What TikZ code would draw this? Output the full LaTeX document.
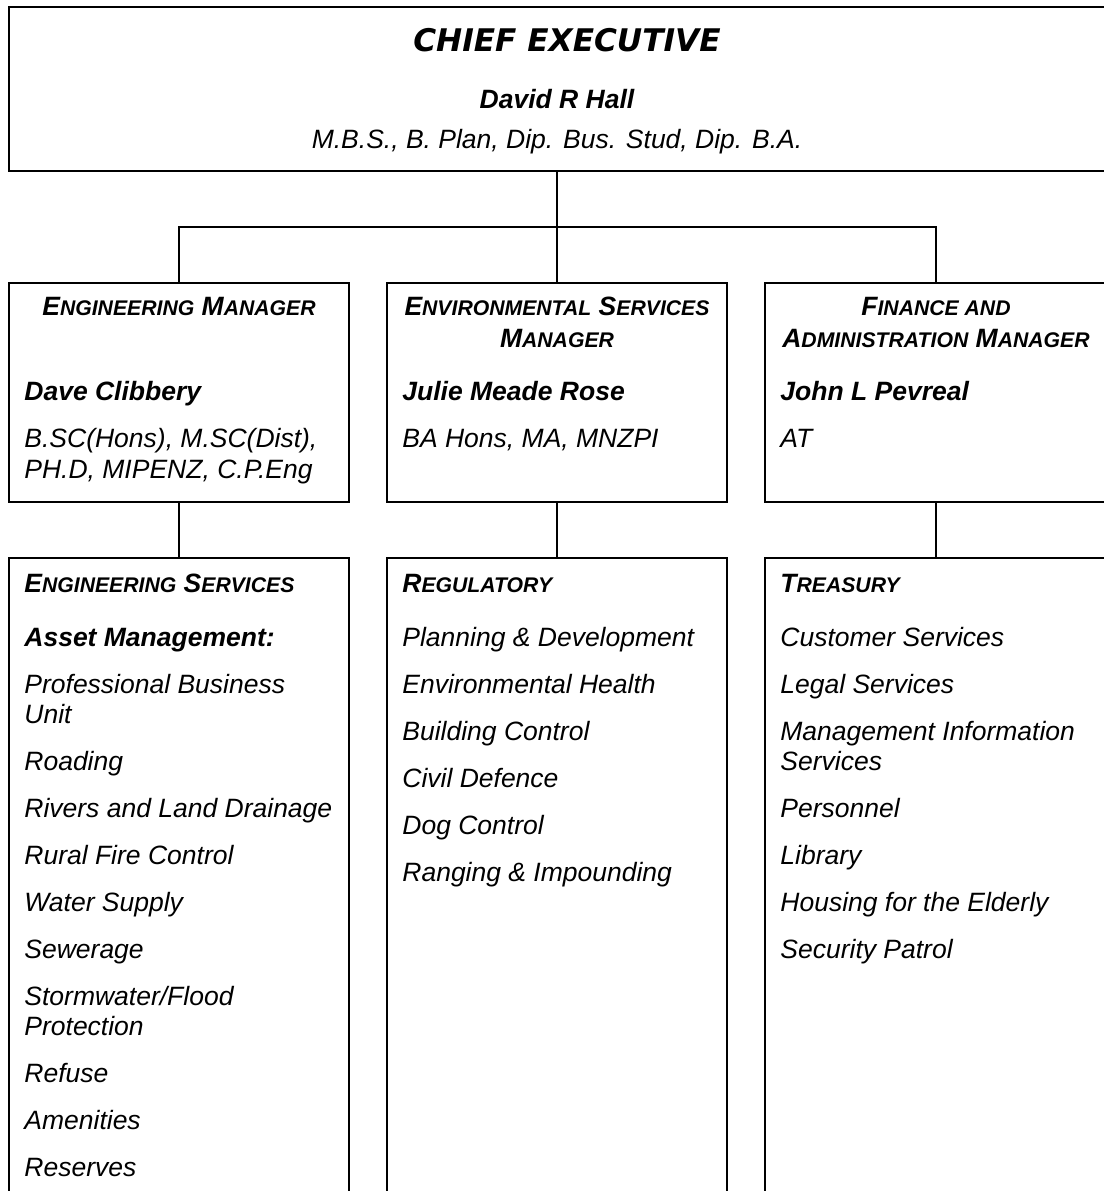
\documentclass[tikz,border=0pt]{standalone}
\usepackage{fontspec}
\setmainfont{Liberation Sans}
\newfontfamily\heavyfont{DejaVu Sans}
\newcommand\smcap[2]{#1{\fontsize{10.6}{12}\selectfont #2}}
\tikzset{
  box/.style={draw, rectangle, line width=1.1pt, inner sep=0pt, outer sep=0pt, anchor=north west},
  link/.style={line width=0.8pt},
  itemtext/.style={inner sep=0pt, anchor=base west, font=\fontsize{13.25}{15}\selectfont\itshape},
  nametext/.style={inner sep=0pt, anchor=base west, font=\fontsize{13.25}{15}\selectfont\bfseries\itshape},
  headtext/.style={inner sep=0pt, anchor=base, font=\fontsize{13.25}{15}\selectfont\bfseries\itshape},
}
\begin{document}
\begin{tikzpicture}[x=0.5pt,y=-0.5pt]
            \useasboundingbox (0,0) rectangle (1104,1191);
            
            % Drawing box of the chief executive
            \node (ceo) [box, minimum width=549pt, minimum height=82pt] at (9,7) {};%
            \node (ceotitle) [inner sep=0pt, anchor=base, font=\heavyfont\fontsize{15.6}{19}\selectfont\bfseries\itshape] at (567,51) {CHIEF EXECUTIVE};%
            \node (ceoname) [headtext] at (557,108) {David R Hall};%
            \node (ceoqual) [headtext, font=\fontsize{13.25}{15}\selectfont\itshape] at (557,148) {M.B.S., B. Plan, Dip. Bus. Stud, Dip. B.A.};%
            
            % Drawing boxes of the managers
            \node (engmgr) [box, minimum width=170pt, minimum height=109.5pt] at (9,283) {};%
            \node (envmgr) [box, minimum width=170pt, minimum height=109.5pt] at (387,283) {};%
            \node (finmgr) [box, minimum width=171pt, minimum height=109.5pt] at (765,283) {};%
            
            % Drawing boxes of the services
            \node (engsvc) [box, minimum width=170pt, minimum height=351pt] at (9,558) {};%
            \node (regsvc) [box, minimum width=170pt, minimum height=351pt] at (387,558) {};%
            \node (treas) [box, minimum width=171pt, minimum height=351pt] at (765,558) {};%
            
            % Drawing connectors
            \coordinate (bus) at (557,227);%
            \draw [link] (envmgr.north |- ceo.south) -- (bus);%
            \draw [link] (engmgr.north) |- (bus) -| (finmgr.north);%
            \draw [link] (bus) -- (envmgr.north);%
            \draw [link] (engmgr.south) -- (engsvc.north);%
            \draw [link] (envmgr.south) -- (regsvc.north);%
            \draw [link] (finmgr.south) -- (treas.north);%
            
            % Engineering manager
            \node (engtitle) [headtext] at (179,315) {\smcap{E}{NGINEERING} \smcap{M}{ANAGER}};%
            \node (engname) [nametext] at (24,400) {Dave Clibbery};%
            \node (engqual) [itemtext] at (24,447) {B.SC(Hons), M.SC(Dist),};%
            \node (engqualb) [itemtext] at (24,478) {PH.D, MIPENZ, C.P.Eng};%
            
            % Environmental services manager
            \node (envtitle) [headtext] at (557,315) {\smcap{E}{NVIRONMENTAL} \smcap{S}{ERVICES}};%
            \node (envtitleb) [headtext] at (557,347) {\smcap{M}{ANAGER}};%
            \node (envname) [nametext] at (402,400) {Julie Meade Rose};%
            \node (envqual) [itemtext] at (402,447) {BA Hons, MA, MNZPI};%
            
            % Finance and administration manager
            \node (fintitle) [headtext] at (936,315) {\smcap{F}{INANCE AND}};%
            \node (fintitleb) [headtext] at (936,347) {\smcap{A}{DMINISTRATION} \smcap{M}{ANAGER}};%
            \node (finname) [nametext] at (780,400) {John L Pevreal};%
            \node (finqual) [itemtext] at (780,447) {AT};%
            
            % Engineering services
            \node (engsvctitle) [nametext] at (24,592) {\smcap{E}{NGINEERING} \smcap{S}{ERVICES}};%
            \node (asset) [nametext] at (24,646) {Asset Management:};%
            \node (pbu) [itemtext] at (24,693) {Professional Business};%
            \node (pbub) [itemtext] at (24,723) {Unit};%
            \node (roading) [itemtext] at (24,770) {Roading};%
            \node (rivers) [itemtext] at (24,817) {Rivers and Land Drainage};%
            \node (rural) [itemtext] at (24,864) {Rural Fire Control};%
            \node (water) [itemtext] at (24,911) {Water Supply};%
            \node (sewer) [itemtext] at (24,958) {Sewerage};%
            \node (storm) [itemtext] at (24,1005) {Stormwater/Flood};%
            \node (stormb) [itemtext] at (24,1035) {Protection};%
            \node (refuse) [itemtext] at (24,1082) {Refuse};%
            \node (amenity) [itemtext] at (24,1129) {Amenities};%
            \node (reserve) [itemtext] at (24,1176) {Reserves};%
            
            % Regulatory
            \node (regtitle) [nametext] at (402,592) {\smcap{R}{EGULATORY}};%
            \node (planning) [itemtext] at (402,646) {Planning \& Development};%
            \node (envhealth) [itemtext] at (402,693) {Environmental Health};%
            \node (building) [itemtext] at (402,740) {Building Control};%
            \node (civil) [itemtext] at (402,787) {Civil Defence};%
            \node (dog) [itemtext] at (402,834) {Dog Control};%
            \node (ranging) [itemtext] at (402,881) {Ranging \& Impounding};%
            
            % Treasury
            \node (treastitle) [nametext] at (780,592) {\smcap{T}{REASURY}};%
            \node (customer) [itemtext] at (780,646) {Customer Services};%
            \node (legal) [itemtext] at (780,693) {Legal Services};%
            \node (mis) [itemtext] at (780,740) {Management Information};%
            \node (misb) [itemtext] at (780,770) {Services};%
            \node (personnel) [itemtext] at (780,817) {Personnel};%
            \node (library) [itemtext] at (780,864) {Library};%
            \node (housing) [itemtext] at (780,911) {Housing for the Elderly};%
            \node (security) [itemtext] at (780,958) {Security Patrol};%
        \end{tikzpicture}
\end{document}
